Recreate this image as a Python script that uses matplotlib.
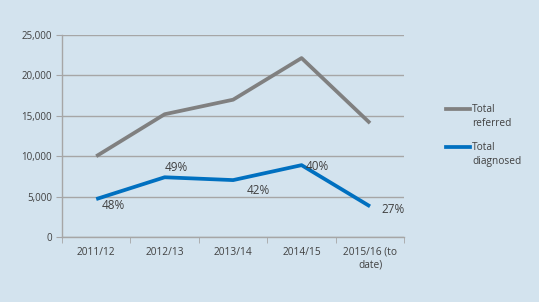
import numpy as np
import matplotlib.pyplot as plt
from matplotlib.lines import Line2D

categories = ["2011/12", "2012/13", "2013/14", "2014/15", "2015/16 (to\ndate)"]
total_referred = [10000, 15200, 17000, 22150, 14100]
total_diagnosed = [4700, 7400, 7050, 8900, 3800]
pct_labels = ["48%", "49%", "42%", "40%", "27%"]

bg = "#D3E3EE"
grid_col = "#A6A6A6"
text_col = "#404040"
grey = "#808080"
blue = "#0070C0"

plt.rcParams['font.family'] = ['Open Sans', 'DejaVu Sans']

W, H = 539, 302
fig = plt.figure(figsize=(W / 100, H / 100), dpi=100, facecolor=bg)
ax = fig.add_axes([0.115, 0.215, 0.635, 0.669])
ax.set_facecolor(bg)

x = np.arange(len(categories))
ax.plot(x, total_referred, color=grey, lw=2.7, solid_capstyle="butt")
ax.plot(x, total_diagnosed, color=blue, lw=2.7, solid_capstyle="butt")

# percentage labels (offsets in points)
offsets = [(4, -9), (0, 2), (10, -12), (3, -6), (8, -7)]
for i, (lab, off) in enumerate(zip(pct_labels, offsets)):
    ax.annotate(lab, (x[i], total_diagnosed[i]), xytext=off, textcoords="offset points",
                fontsize=8.5, color=text_col, ha="left", va="bottom")

ax.set_xlim(-0.5, len(categories) - 0.5)
ax.set_ylim(0, 25000)
ax.set_yticks(np.arange(0, 25001, 5000))
ax.set_yticklabels([f"{v:,}" for v in range(0, 25001, 5000)])
ax.set_xticks(x)
ax.set_xticklabels(categories)
ax.set_xticks(np.arange(-0.5, len(categories), 1), minor=True)

ax.yaxis.grid(True, color=grid_col, lw=1)
ax.set_axisbelow(True)
for s in ["top", "right"]:
    ax.spines[s].set_visible(False)
for s in ["left", "bottom"]:
    ax.spines[s].set_color(grid_col)
    ax.spines[s].set_linewidth(1)

ax.tick_params(axis="y", length=4, color=grid_col, labelsize=7, labelcolor=text_col, pad=3)
ax.tick_params(axis="x", which="major", length=0, labelsize=7.3, labelcolor=text_col, pad=7)
ax.tick_params(axis="x", which="minor", length=4, color=grid_col)

# legend: handle sits on the first text line, as in the source chart
legend_items = [("Total\nreferred", grey, 109), ("Total\ndiagnosed", blue, 147)]
for label, col, ypix in legend_items:
    yf = 1 - ypix / H
    fig.add_artist(Line2D([446 / W, 470 / W], [yf, yf], color=col, lw=2.7,
                          transform=fig.transFigure))
    fig.text(472 / W, yf + 5 / H, label, fontsize=7.3, color=text_col,
             ha="left", va="top", linespacing=1.35)

fig.savefig("out.png", dpi=100, facecolor=bg)
